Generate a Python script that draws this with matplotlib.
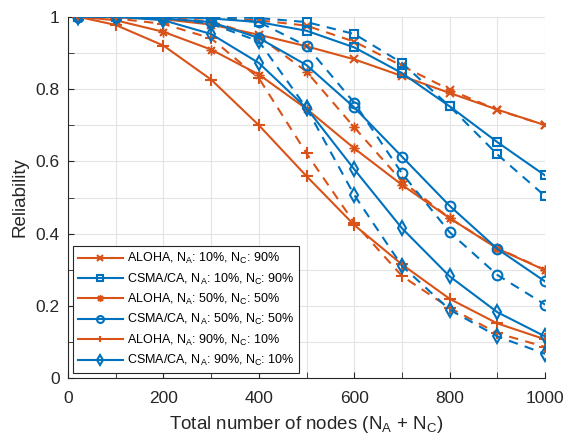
import numpy as np
import matplotlib
matplotlib.use("Agg")
import matplotlib.pyplot as plt
from matplotlib.ticker import MultipleLocator

plt.rcParams['font.family'] = ['Liberation Sans', 'DejaVu Sans']
plt.rcParams['mathtext.default'] = 'regular'

# total nodes
x = [20, 100, 200, 300, 400, 500, 600, 700, 800, 900, 1000]

# solid = first set, dashed = second set
aloha_10_sol = [1.0, 0.998, 0.993, 0.978, 0.950, 0.918, 0.882, 0.836, 0.789, 0.743, 0.700]
aloha_10_dash = [1.0, 1.0, 0.999, 0.996, 0.990, 0.975, 0.931, 0.864, 0.798, 0.742, 0.700]
csma_10_sol = [1.0, 1.0, 1.0, 0.995, 0.985, 0.961, 0.915, 0.844, 0.752, 0.653, 0.561]
csma_10_dash = [1.0, 1.0, 1.0, 1.0, 0.996, 0.985, 0.952, 0.872, 0.752, 0.619, 0.504]
aloha_50_sol = [1.0, 0.990, 0.958, 0.909, 0.840, 0.745, 0.636, 0.535, 0.443, 0.359, 0.299]
aloha_50_dash = [1.0, 1.0, 0.997, 0.987, 0.945, 0.848, 0.694, 0.545, 0.443, 0.360, 0.300]
csma_50_sol = [1.0, 1.0, 0.995, 0.985, 0.941, 0.866, 0.749, 0.613, 0.477, 0.358, 0.268]
csma_50_dash = [1.0, 1.0, 1.0, 0.998, 0.985, 0.919, 0.762, 0.567, 0.404, 0.286, 0.204]
aloha_90_sol = [1.0, 0.977, 0.920, 0.826, 0.700, 0.559, 0.424, 0.315, 0.220, 0.152, 0.108]
aloha_90_dash = [1.0, 0.995, 0.980, 0.940, 0.830, 0.622, 0.430, 0.283, 0.195, 0.125, 0.087]
csma_90_sol = [1.0, 1.0, 0.990, 0.952, 0.872, 0.747, 0.578, 0.415, 0.282, 0.183, 0.116]
csma_90_dash = [1.0, 1.0, 0.998, 0.980, 0.932, 0.747, 0.507, 0.311, 0.190, 0.116, 0.068]

labels = [r'ALOHA, N$_A$: 10%, N$_C$: 90%',
          r'CSMA/CA, N$_A$: 10%, N$_C$: 90%',
          r'ALOHA, N$_A$: 50%, N$_C$: 50%',
          r'CSMA/CA, N$_A$: 50%, N$_C$: 50%',
          r'ALOHA, N$_A$: 90%, N$_C$: 10%',
          r'CSMA/CA, N$_A$: 90%, N$_C$: 10%']
yticks = [0, 0.2, 0.4, 0.6, 0.8, 1]
yticklabels = ['0', '0.2', '0.4', '0.6', '0.8', '1']

orange = '#D95319'
blue = '#0072BD'
ast = (8, 2, 0)

series = [
    (aloha_10_sol, aloha_10_dash, orange, 'x', 6),
    (csma_10_sol, csma_10_dash, blue, 's', 6),
    (aloha_50_sol, aloha_50_dash, orange, ast, 7),
    (csma_50_sol, csma_50_dash, blue, 'o', 7),
    (aloha_90_sol, aloha_90_dash, orange, '+', 8),
    (csma_90_sol, csma_90_dash, blue, 'd', 7),
]

fig = plt.figure(figsize=(5.69, 4.38), dpi=100)
ax = fig.add_axes([0.1195, 0.136, 0.8385, 0.826])

handles = []
for (sol, dash, c, m, ms), lab in zip(series, labels):
    mew = 1.0 if m == ast else 1.5
    h, = ax.plot(x, sol, color=c, marker=m, ms=ms, mfc='none', mew=mew,
                 lw=1.5, label=lab)
    ax.plot(x, dash, color=c, marker=m, ms=ms, mfc='none', mew=mew,
            lw=1.5, ls=(0, (4.5, 3.5)))
    handles.append(h)

ax.set_xlim(0, 1000)
ax.set_ylim(0, 1)
ax.xaxis.set_major_locator(MultipleLocator(200))
ax.xaxis.set_minor_locator(MultipleLocator(100))
ax.set_yticks(yticks, yticklabels)
ax.yaxis.set_minor_locator(MultipleLocator(0.1))
ax.grid(True, which='both', color='#e3e3e3', lw=0.8)
ax.set_axisbelow(True)
for s in ['top', 'right']:
    ax.spines[s].set_visible(False)
for s in ['left', 'bottom']:
    ax.spines[s].set_color('#262626')
ax.tick_params(which='both', direction='in', length=4, colors='#262626',
               labelsize=12.5)
ax.tick_params(axis='x', pad=9)
ax.tick_params(axis='y', pad=6)
ax.set_xlabel(r'Total number of nodes (N$_A$ + N$_C$)', fontsize=13.5,
              color='#262626', labelpad=6)
ax.set_ylabel('Reliability', fontsize=13.5, color='#262626', labelpad=5)

leg = ax.legend(handles=handles, loc='lower left', bbox_to_anchor=(0.01, 0.015),
                fontsize=9, handlelength=3.6, labelspacing=0.42,
                fancybox=False, edgecolor='#262626', framealpha=1,
                borderpad=0.4, handletextpad=0.3, borderaxespad=0)
leg.get_frame().set_linewidth(0.8)
for lh in leg.get_lines():
    lh.set_markersize(5)

fig.savefig('out.png', dpi=100)
